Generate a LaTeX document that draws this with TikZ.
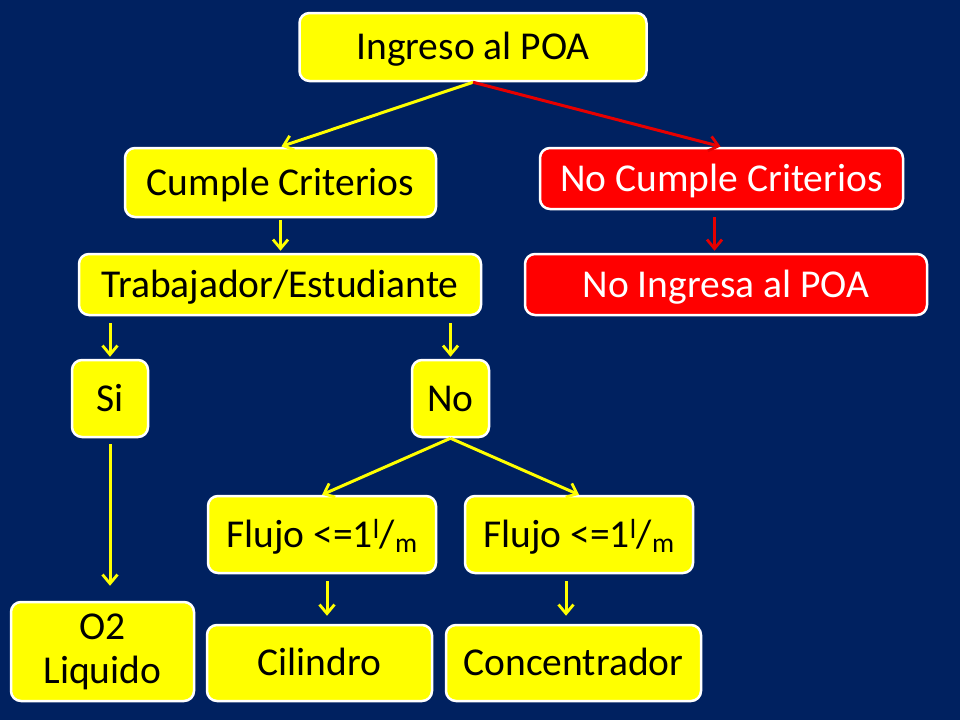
\documentclass[tikz,border=0pt]{standalone}
\usepackage{fontspec}
\setmainfont{Carlito}
\usetikzlibrary{arrows.meta}
\definecolor{navy}{RGB}{0,33,96}
\definecolor{boxyellow}{RGB}{255,255,0}
\definecolor{boxred}{RGB}{255,0,0}
\definecolor{arrred}{RGB}{230,0,0}
\tikzset{
  basebox/.style={draw=white, line width=2.5pt, fill=boxyellow, rounded corners=10pt,
    text=black, inner sep=0pt, align=center, font=\fontsize{39.5}{44}\selectfont},
  ybox/.style={basebox, text height=25.4pt, text depth=0pt},
  rbox/.style={ybox, fill=boxred, text=white},
  yarr/.style={draw=boxyellow, line width=3pt, -{Straight Barb[length=9pt,width=15pt,line width=2.8pt]}},
  rarr/.style={yarr, draw=arrred},
}
\begin{document}
\begin{tikzpicture}[x=1pt,y=-1pt]
\fill[navy] (0,0) rectangle (960,720);
\useasboundingbox (0,0) rectangle (960,720);
\node[ybox, minimum width=347pt, minimum height=68pt] (ing) at (473,47) {Ingreso al POA};
\node[ybox, minimum width=311pt, minimum height=69pt] (cum) at (280.5,182.5) {Cumple Criterios};
\node[rbox, minimum width=363pt, minimum height=61pt] (nc) at (721.5,178.5) {No Cumple Criterios};
\node[ybox, minimum width=402pt, minimum height=61pt] (trab) at (280,284.5) {Trabajador/Estudiante};
\node[rbox, minimum width=402pt, minimum height=61pt] (ni) at (726,284.5) {No Ingresa al POA};
\node[ybox, minimum width=76pt, minimum height=77pt] (si) at (110,398.5) {Si};
\node[ybox, minimum width=77pt, minimum height=77pt] (no) at (450.5,398.5) {No};
\node[ybox, minimum width=228pt, minimum height=77pt] (f1) at (322,534.5) {Flujo <=1\textsuperscript{l}/\textsubscript{m}};
\node[ybox, minimum width=228pt, minimum height=77pt] (f2) at (579,534.5) {Flujo <=1\textsuperscript{l}/\textsubscript{m}};
\node[basebox, minimum width=183pt, minimum height=99pt] (o2) at (102.5,651.5) {O2\\Liquido};
\node[ybox, minimum width=225pt, minimum height=76pt] (cil) at (319.5,663) {Cilindro};
\node[ybox, minimum width=255pt, minimum height=76pt] (con) at (573.5,663) {Concentrador};
\draw[yarr, shorten >=1pt] (ing.south) -- (cum.north);
\draw[rarr, shorten >=1pt] (ing.south) -- (nc.north);
\draw[yarr, shorten <=2pt, shorten >=2pt] (cum.south) -- (cum.south |- trab.north);
\draw[rarr, shorten <=7pt, shorten >=2pt] ([xshift=-7pt]nc.south) -- ([xshift=-7pt]nc.south |- ni.north);
\draw[yarr, shorten <=7pt, shorten >=2pt] (si.north |- trab.south) -- (si.north);
\draw[yarr, shorten <=7pt, shorten >=2pt] (no.north |- trab.south) -- (no.north);
\draw[yarr, shorten <=6pt, shorten >=15pt] (si.south) -- (si.south |- o2.north);
\draw[yarr] (no.south) -- (f1.north);
\draw[yarr] (no.south) -- (f2.north);
\draw[yarr, shorten <=7pt, shorten >=8pt] ([xshift=5pt]f1.south) -- ([xshift=5pt]f1.south |- cil.north);
\draw[yarr, shorten <=7pt, shorten >=8pt] ([xshift=-13pt]f2.south) -- ([xshift=-13pt]f2.south |- con.north);
\end{tikzpicture}
\end{document}
